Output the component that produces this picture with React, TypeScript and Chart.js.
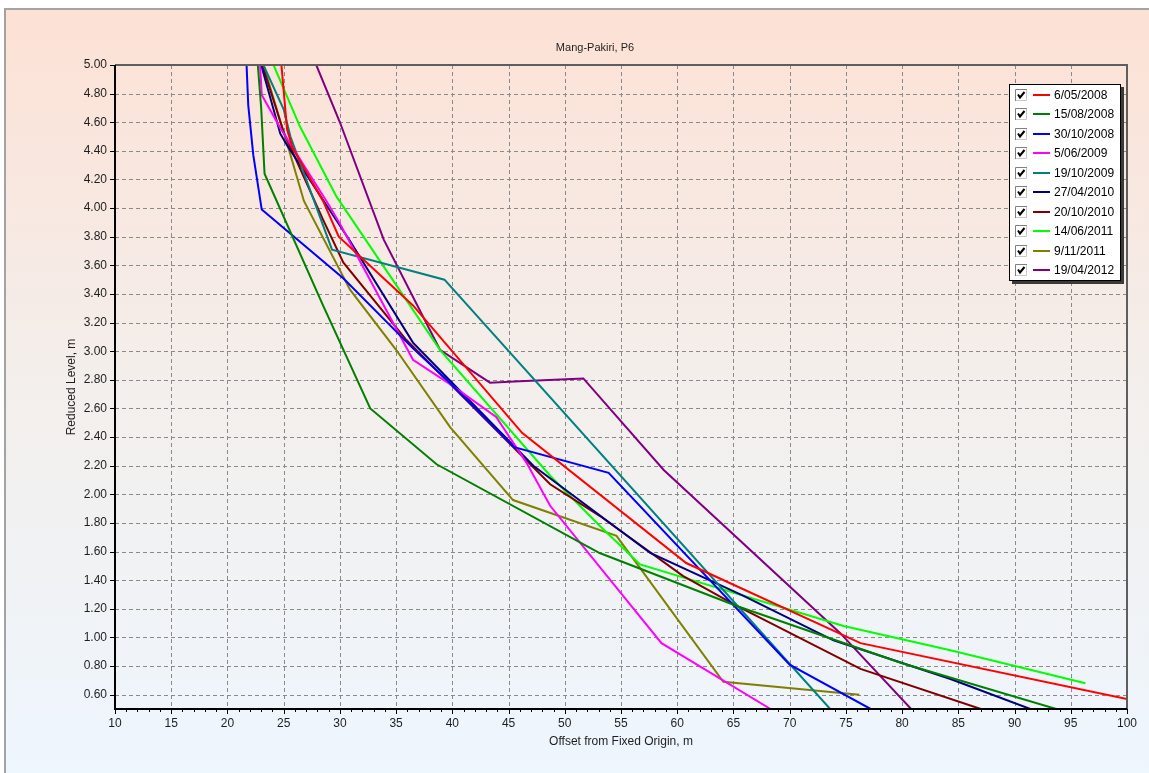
import React, { useEffect, useRef } from 'react';
import { Chart, registerables } from 'chart.js';

Chart.register(...registerables);

const W = 1149;
const H = 773;

const chartTitle = 'Mang-Pakiri, P6';
const xAxisTitle = 'Offset from Fixed Origin, m';
const yAxisTitle = 'Reduced Level, m';

const seriesLabels = [
  '6/05/2008', '15/08/2008', '30/10/2008', '5/06/2009', '19/10/2009',
  '27/04/2010', '20/10/2010', '14/06/2011', '9/11/2011', '19/04/2012',
];
const seriesColors = [
  '#FF0000', '#008000', '#0000FF', '#FF00FF', '#008080',
  '#000080', '#800000', '#00FF00', '#808000', '#800080',
];

// offsets (m) and reduced levels (m) for each survey
const off20080506 = [24.8, 25.3, 25.8, 28.5, 29.9, 36.5, 46.2, 60.8, 76.3, 100];
const rl20080506 = [5.0, 4.55, 4.42, 4.05, 3.8, 3.32, 2.43, 1.52, 0.96, 0.57];

const off20080815 = [22.7, 23.0, 23.3, 28.5, 32.7, 38.6, 53.1, 65.3, 80.0, 93.7];
const rl20080815 = [5.0, 4.7, 4.24, 3.32, 2.6, 2.21, 1.59, 1.22, 0.82, 0.5];

const off20081030 = [21.7, 21.85, 22.3, 23.05, 30.3, 36.5, 39.5, 45.5, 53.9, 70.0, 77.2];
const rl20081030 = [5.0, 4.72, 4.37, 3.99, 3.51, 3.02, 2.8, 2.33, 2.15, 0.81, 0.5];

const off20090605 = [22.9, 23.05, 24.7, 28.8, 30.0, 36.5, 39.8, 43.9, 46.6, 48.7, 58.6, 68.3];
const rl20090605 = [5.0, 4.79, 4.56, 4.05, 3.89, 2.94, 2.77, 2.54, 2.22, 1.92, 0.96, 0.5];

const off20091019 = [23.2, 25.0, 25.6, 29.3, 39.3, 73.6];
const rl20091019 = [5.0, 4.69, 4.5, 3.71, 3.5, 0.5];

const off20100427 = [23.0, 24.7, 25.3, 30.9, 36.5, 47.2, 57.6, 65.9, 73.9, 84.3, 91.4];
const rl20100427 = [5.0, 4.52, 4.44, 3.77, 3.06, 2.2, 1.59, 1.29, 0.98, 0.71, 0.5];

const off20101020 = [23.1, 25.0, 28.5, 30.3, 35.9, 48.7, 53.1, 60.5, 65.3, 76.3, 87.0];
const rl20101020 = [5.0, 4.53, 3.92, 3.62, 3.08, 2.07, 1.85, 1.43, 1.22, 0.78, 0.5];

const off20110614 = [24.1, 26.45, 29.7, 38.9, 48.7, 53.1, 56.7, 74.8, 84.3, 96.3];
const rl20110614 = [5.0, 4.57, 4.08, 3.01, 2.13, 1.78, 1.51, 1.08, 0.91, 0.68];

const off20111109 = [23.2, 25.5, 26.8, 30.9, 35.0, 39.8, 45.4, 54.6, 64.1, 76.2];
const rl20111109 = [5.0, 4.4, 4.05, 3.43, 3.01, 2.47, 1.96, 1.71, 0.69, 0.6];

const off20120419 = [27.9, 30.0, 33.9, 38.9, 43.35, 46.0, 51.65, 58.8, 74.5, 80.8];
const rl20120419 = [5.0, 4.6, 3.78, 3.01, 2.78, 2.79, 2.81, 2.17, 1.03, 0.5];

const seriesOffsets = [
  off20080506, off20080815, off20081030, off20090605, off20091019,
  off20100427, off20101020, off20110614, off20111109, off20120419,
];
const seriesLevels = [
  rl20080506, rl20080815, rl20081030, rl20090605, rl20091019,
  rl20100427, rl20101020, rl20110614, rl20111109, rl20120419,
];

const xMin = 10;
const xMax = 100;
const xStep = 5;
const yMin = 0.5;
const yMax = 5.0;
const yTickValues = [0.6, 0.8, 1.0, 1.2, 1.4, 1.6, 1.8, 2.0, 2.2, 2.4, 2.6, 2.8, 3.0, 3.2, 3.4, 3.6, 3.8, 4.0, 4.2, 4.4, 4.6, 4.8, 5.0];

const FONT = '"Liberation Sans", Arial, sans-serif';

const backgroundPlugin = {
  id: 'panelBackground',
  beforeDraw(chart: any) {
    const ctx = chart.ctx;
    ctx.save();
    ctx.fillStyle = '#ffffff';
    ctx.fillRect(0, 0, W, H);
    const g = ctx.createLinearGradient(0, 9, 0, H);
    g.addColorStop(0, '#FDE1D5');
    g.addColorStop(0.5, '#F3EFEC');
    g.addColorStop(1, '#EEF6FE');
    ctx.fillStyle = g;
    ctx.fillRect(5, 9, W - 5, H - 9);
    ctx.strokeStyle = '#A3A3A3';
    ctx.lineWidth = 2;
    ctx.beginPath();
    ctx.moveTo(5, H);
    ctx.lineTo(5, 9);
    ctx.lineTo(W, 9);
    ctx.stroke();
    ctx.restore();
  },
};

const gridPlugin = {
  id: 'dashedGrid',
  beforeDatasetsDraw(chart: any) {
    const { ctx, chartArea, scales } = chart;
    const { left, right, top, bottom } = chartArea;
    ctx.save();
    ctx.strokeStyle = '#8A8A8A';
    ctx.lineWidth = 1;
    ctx.setLineDash([4, 3]);
    for (let v = xMin + xStep; v < xMax; v += xStep) {
      const px = Math.round(scales.x.getPixelForValue(v)) + 0.5;
      ctx.beginPath();
      ctx.moveTo(px, top);
      ctx.lineTo(px, bottom);
      ctx.stroke();
    }
    yTickValues.forEach((v) => {
      if (v >= yMax) return;
      const py = Math.round(scales.y.getPixelForValue(v)) + 0.5;
      ctx.beginPath();
      ctx.moveTo(left, py);
      ctx.lineTo(right, py);
      ctx.stroke();
    });
    ctx.restore();
  },
};

const framePlugin = {
  id: 'frameAndText',
  afterDatasetsDraw(chart: any) {
    const { ctx, chartArea, scales } = chart;
    const { left, right, top, bottom } = chartArea;
    ctx.save();
    ctx.setLineDash([]);
    // top and right border
    ctx.strokeStyle = '#5E5E5E';
    ctx.lineWidth = 2;
    ctx.beginPath();
    ctx.moveTo(left, top);
    ctx.lineTo(right, top);
    ctx.lineTo(right, bottom);
    ctx.stroke();
    // axes
    ctx.strokeStyle = '#000000';
    ctx.lineWidth = 2;
    ctx.beginPath();
    ctx.moveTo(left, top);
    ctx.lineTo(left, bottom);
    ctx.lineTo(right, bottom);
    ctx.stroke();
    // ticks
    ctx.lineWidth = 1;
    yTickValues.forEach((v) => {
      const py = Math.round(scales.y.getPixelForValue(v)) + 0.5;
      ctx.beginPath();
      ctx.moveTo(left - 5, py);
      ctx.lineTo(left, py);
      ctx.stroke();
    });
    for (let v = xMin; v <= xMax; v += 1) {
      const px = Math.round(scales.x.getPixelForValue(v)) + 0.5;
      const len = v % xStep === 0 ? 5 : 3;
      ctx.beginPath();
      ctx.moveTo(px, bottom);
      ctx.lineTo(px, bottom + len);
      ctx.stroke();
    }
    ctx.restore();
  },
  afterDraw(chart: any) {
    const { ctx, chartArea } = chart;
    const { left, right, top, bottom } = chartArea;
    ctx.save();
    ctx.fillStyle = '#1E1E1E';
    ctx.textAlign = 'center';
    ctx.textBaseline = 'middle';
    ctx.font = `11px ${FONT}`;
    ctx.fillText(chartTitle, 595, 48);
    ctx.font = `12px ${FONT}`;
    ctx.fillText(xAxisTitle, (left + right) / 2, 742);
    ctx.save();
    ctx.translate(72, (top + bottom) / 2);
    ctx.rotate(-Math.PI / 2);
    ctx.fillText(yAxisTitle, 0, 0);
    ctx.restore();

    // legend
    const lx = 1009;
    const ly = 84;
    const lw = 112;
    const lh = 197;
    ctx.fillStyle = '#3A3A3A';
    ctx.fillRect(lx + 3, ly + 3, lw, lh);
    ctx.fillStyle = '#FFFFFF';
    ctx.fillRect(lx, ly, lw, lh);
    ctx.strokeStyle = '#000000';
    ctx.lineWidth = 1;
    ctx.strokeRect(lx + 0.5, ly + 0.5, lw - 1, lh - 1);
    ctx.textAlign = 'left';
    ctx.font = `12px ${FONT}`;
    seriesLabels.forEach((lab, i) => {
      const cy = Math.round(ly + 11 + i * 19.45);
      // checkbox
      const bx = 1015;
      const by = cy - 6;
      ctx.fillStyle = '#FFFFFF';
      ctx.fillRect(bx, by, 12, 12);
      ctx.strokeStyle = '#808080';
      ctx.beginPath();
      ctx.moveTo(bx + 0.5, by + 12);
      ctx.lineTo(bx + 0.5, by + 0.5);
      ctx.lineTo(bx + 12, by + 0.5);
      ctx.stroke();
      ctx.strokeStyle = '#C8C8C8';
      ctx.beginPath();
      ctx.moveTo(bx + 11.5, by + 1);
      ctx.lineTo(bx + 11.5, by + 11.5);
      ctx.lineTo(bx + 1, by + 11.5);
      ctx.stroke();
      ctx.strokeStyle = '#000000';
      ctx.lineWidth = 2;
      ctx.beginPath();
      ctx.moveTo(bx + 3, by + 5.5);
      ctx.lineTo(bx + 5, by + 8.5);
      ctx.lineTo(bx + 9.5, by + 3);
      ctx.stroke();
      ctx.lineWidth = 1;
      // line sample
      ctx.strokeStyle = seriesColors[i];
      ctx.lineWidth = 2;
      ctx.beginPath();
      ctx.moveTo(1033, cy);
      ctx.lineTo(1050, cy);
      ctx.stroke();
      ctx.lineWidth = 1;
      ctx.fillStyle = '#000000';
      ctx.fillText(lab, 1054, cy + 0.5);
    });
    ctx.restore();
  },
};

export default function App() {
  const canvasRef = useRef<HTMLCanvasElement | null>(null);

  useEffect(() => {
    const canvas = canvasRef.current;
    if (!canvas) return;
    const datasets = seriesLabels.map((label, i) => ({
      label,
      data: seriesOffsets[i].map((x, j) => ({ x, y: seriesLevels[i][j] })),
      borderColor: seriesColors[i],
      backgroundColor: seriesColors[i],
      borderWidth: 2,
      pointRadius: 0,
      pointHoverRadius: 0,
      tension: 0,
      fill: false,
      showLine: true,
    }));

    const chart = new Chart(canvas, {
      type: 'line',
      data: { datasets },
      options: {
        animation: false,
        responsive: false,
        devicePixelRatio: 1,
        parsing: false as any,
        normalized: true,
        events: [],
        layout: { padding: { left: 65, right: 22, top: 65, bottom: 24 } },
        plugins: {
          legend: { display: false },
          title: { display: false },
          tooltip: { enabled: false },
        },
        scales: {
          x: {
            type: 'linear',
            min: xMin,
            max: xMax,
            grid: { display: false, drawTicks: false },
            border: { display: false },
            ticks: {
              stepSize: xStep,
              padding: 7,
              maxRotation: 0,
              autoSkip: false,
              color: '#1E1E1E',
              font: { family: FONT, size: 12 },
              callback: (v: any) => String(v),
            },
            afterFit: (s: any) => {
              s.height = 40;
            },
          },
          y: {
            type: 'linear',
            min: yMin,
            max: yMax,
            grid: { display: false, drawTicks: false },
            border: { display: false },
            afterBuildTicks: (s: any) => {
              s.ticks = yTickValues.map((v) => ({ value: v }));
            },
            ticks: {
              padding: 8,
              autoSkip: false,
              color: '#1E1E1E',
              font: { family: FONT, size: 12 },
              callback: (v: any) => Number(v).toFixed(2),
            },
            afterFit: (s: any) => {
              s.width = 50;
            },
          },
        },
      },
      plugins: [backgroundPlugin, gridPlugin, framePlugin],
    });

    return () => {
      chart.destroy();
    };
  }, []);

  return (
    <div style={{ position: 'absolute', left: 0, top: 0, width: W, height: H }}>
      <canvas ref={canvasRef} width={W} height={H} style={{ display: 'block', width: W, height: H }} />
    </div>
  );
}
